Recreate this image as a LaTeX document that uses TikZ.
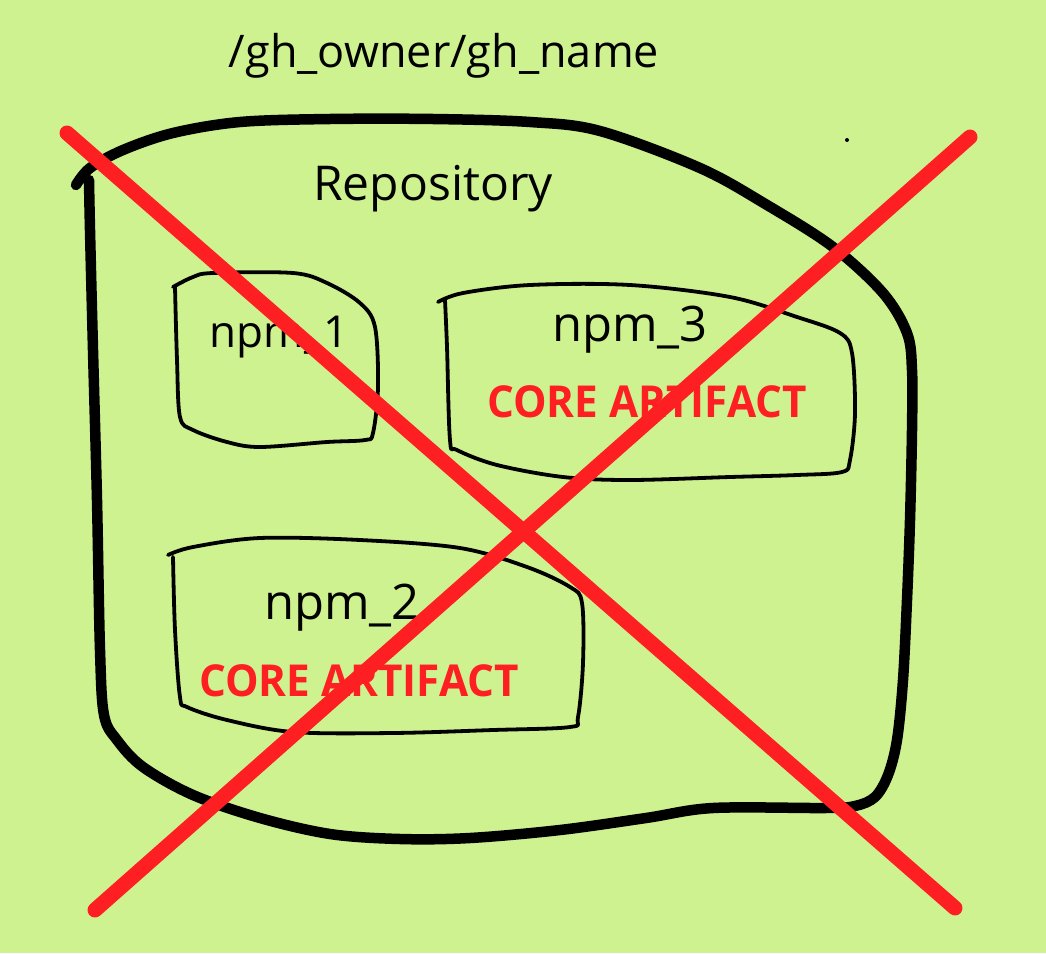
\documentclass[tikz,border=0pt]{standalone}
\usepackage{fontspec}
\setmainfont{Open Sans}
\newfontfamily\corefont[FakeStretch=0.96]{Open Sans}
\usepackage{xcolor}
\definecolor{sketchgreen}{RGB}{207,242,144}
\definecolor{crossred}{RGB}{254,31,35}
\tikzset{
  titlelabel/.style={anchor=base, inner sep=0pt, font=\fontsize{45}{52}\selectfont},
  pkglabel/.style={anchor=base, inner sep=0pt, font=\fontsize{49}{56}\selectfont},
  corelabel/.style={anchor=base, inner sep=0pt, text=crossred, font=\corefont\bfseries\fontsize{44}{50}\selectfont},
  repoline/.style={line width=10.5pt, line cap=round, line join=round},
  pkgline/.style={line width=3.8pt, line cap=round, line join=round},
  crossline/.style={draw=crossred, line width=15pt, line cap=round},
}

\begin{document}
\begin{tikzpicture}[x=1pt, y=-1pt]
  % Canvas
  \useasboundingbox (0,0) rectangle (1046,953);
  \fill[sketchgreen] (0,0) rectangle (1046,953);

  % Repository outline
  \draw[repoline] plot[smooth, tension=0.55] coordinates {
    (76,185) (90,168) (123,150) (173,133) (240,122) (330,119) (433,119)
    (530,122) (600,131) (700,168) (767,205) (833,247) (883,293) (907,333)
    (912,370) (912,430) (910,520) (907,600) (903,680) (897,740) (888,775)
    (875,797) (855,806) (825,808) (713,808) (646,818) (560,830) (470,838)
    (400,839) (330,834) (260,818) (193,795) (143,767) (117,740) (104,715)
    (100,650) (97,500) (93,350) (90,230) (89,180)};
  \fill (847,140) circle (2);

  % npm_1
  \draw[pkgline] plot[smooth, tension=0.55] coordinates {
    (173,287) (193,277) (213,273) (293,273) (327,283) (360,303) (375,327)
    (378,387) (373,433) (365,440) (327,442) (260,447) (227,442) (193,430)
    (180,417) (177,360) (175,287)};

  % npm_3
  \draw[pkgline] plot[smooth, tension=0.55] coordinates {
    (438,302) (463,293) (530,285) (630,285) (730,297) (797,317) (840,333)
    (852,353) (855,413) (850,460) (842,472) (797,475) (730,477) (630,480)
    (563,477) (497,465) (457,450) (450,440) (447,347) (445,300)};

  % npm_2
  \draw[pkgline] plot[smooth, tension=0.55] coordinates {
    (168,555) (193,547) (260,538) (360,540) (460,548) (527,567) (570,587)
    (582,603) (583,663) (578,717) (570,727) (493,730) (393,733) (293,732)
    (227,720) (187,707) (180,697) (175,630) (173,557)};

  % Labels
  \node[titlelabel] (title) at (444,67) {/gh\_owner/gh\_name};
  \node[pkglabel, font=\fontsize{48}{55}\selectfont] (repo) at (433,200) {Repository};
  \node[pkglabel, font=\fontsize{44}{50}\selectfont] (npm1) at (279,347) {npm\_1};
  \node[pkglabel] (npm3) at (630,341) {npm\_3};
  \node[corelabel] (core3) at (647,417) {CORE ARTIFACT};
  \node[pkglabel] (npm2) at (342,619) {npm\_2};
  \node[corelabel] (core2) at (359,696) {CORE ARTIFACT};

  % Cross
  \coordinate (xa) at (67,133);
  \coordinate (xb) at (955,908);
  \coordinate (xc) at (970,137);
  \coordinate (xd) at (95,910);
  \draw[crossline] (xa) -- (xb);
  \draw[crossline] (xc) -- (xd);
\end{tikzpicture}
\end{document}
